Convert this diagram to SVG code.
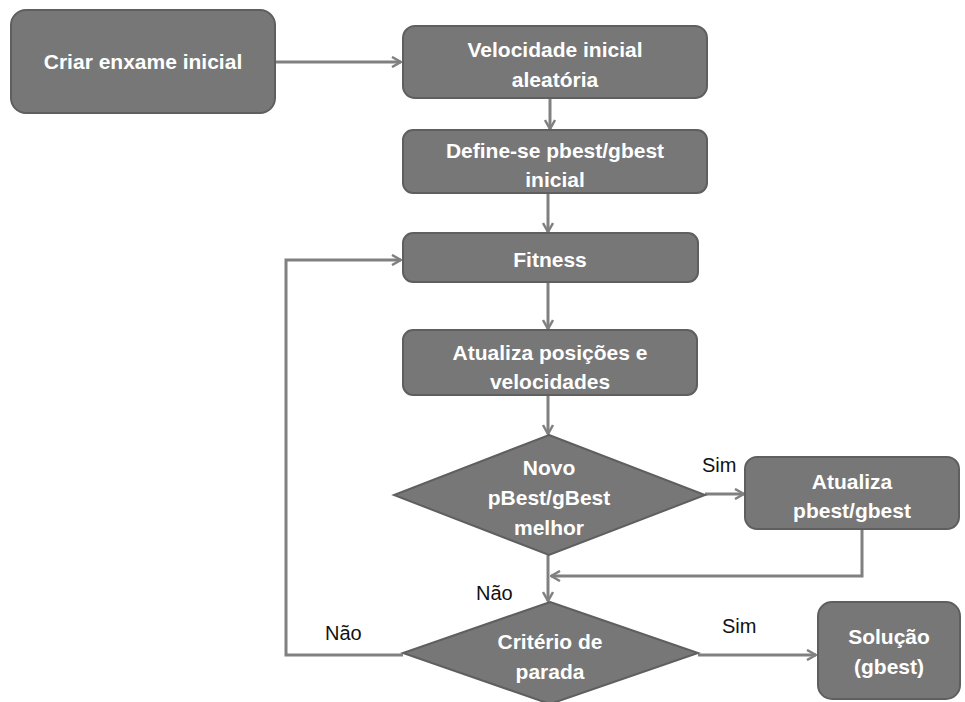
<svg xmlns="http://www.w3.org/2000/svg" width="965" height="702" viewBox="0 0 965 702">
<style>
.box{fill:#777777;stroke:#5f5f5f;stroke-width:2}
.t{font-family:"Liberation Sans",Arial,sans-serif;font-weight:bold;font-size:21px;fill:#ffffff;text-anchor:middle}
.lbl{font-family:"Liberation Sans",Arial,sans-serif;font-size:20px;fill:#111111}
.c{fill:none;stroke:#808080;stroke-width:3}
</style>
<defs>
<marker id="a" viewBox="0 0 12 12" refX="11" refY="6" markerWidth="12" markerHeight="12" markerUnits="userSpaceOnUse" orient="auto">
<polyline points="2,1 11,6 2,11" fill="none" stroke="#808080" stroke-width="2.5"/>
</marker>
</defs>
<rect width="965" height="702" fill="#ffffff"/>
<g id="connectors">
<line class="c" x1="275" y1="62" x2="401" y2="62" marker-end="url(#a)"/>
<line class="c" x1="550" y1="98" x2="550" y2="129" marker-end="url(#a)"/>
<line class="c" x1="548" y1="193" x2="548" y2="232" marker-end="url(#a)"/>
<line class="c" x1="548" y1="282" x2="548" y2="329" marker-end="url(#a)"/>
<line class="c" x1="548" y1="395" x2="548" y2="434" marker-end="url(#a)"/>
<line class="c" x1="548" y1="555" x2="548" y2="601" marker-end="url(#a)"/>
<line class="c" x1="705" y1="494" x2="744" y2="494" marker-end="url(#a)"/>
<polyline class="c" points="862,529 862,576 551,576" marker-end="url(#a)"/>
<polyline class="c" points="403,655 286,655 286,260 401,260" marker-end="url(#a)"/>
<line class="c" x1="698" y1="655" x2="816" y2="655" marker-end="url(#a)"/>
</g>
<g id="n1"><rect class="box" x="11" y="10" width="264" height="103" rx="15"/><text class="t" x="143" y="69">Criar enxame inicial</text></g>
<g id="n2"><rect class="box" x="403" y="26" width="304" height="72" rx="12"/><text class="t" x="555" y="57">Velocidade inicial</text><text class="t" x="555" y="87">aleatória</text></g>
<g id="n3"><rect class="box" x="403" y="130" width="304" height="63" rx="10"/><text class="t" x="555" y="158">Define-se pbest/gbest</text><text class="t" x="555" y="187">inicial</text></g>
<g id="n4"><rect class="box" x="403" y="233" width="295" height="49" rx="10"/><text class="t" x="550" y="267">Fitness</text></g>
<g id="n5"><rect class="box" x="403" y="330" width="294" height="65" rx="10"/><text class="t" x="550" y="360">Atualiza posições e</text><text class="t" x="550" y="389">velocidades</text></g>
<g id="n6"><polygon class="box" points="549,435 705,495 549,555 394,495"/><text class="t" x="549" y="475">Novo</text><text class="t" x="549" y="505">pBest/gBest</text><text class="t" x="549" y="535">melhor</text></g>
<g id="n7"><rect class="box" x="745" y="457" width="214" height="72" rx="12"/><text class="t" x="852" y="489">Atualiza</text><text class="t" x="852" y="518">pbest/gbest</text></g>
<g id="n8"><polygon class="box" points="550,602 698,653 550,704 403,653"/><text class="t" x="550" y="649">Critério de</text><text class="t" x="550" y="679">parada</text></g>
<g id="n9"><rect class="box" x="818" y="602" width="142" height="97" rx="14"/><text class="t" x="889" y="644">Solução</text><text class="t" x="889" y="674">(gbest)</text></g>
<g id="labels">
<text class="lbl" x="702" y="472">Sim</text>
<text class="lbl" x="476" y="600">Não</text>
<text class="lbl" x="325" y="640">Não</text>
<text class="lbl" x="722" y="633">Sim</text>
</g>
</svg>
